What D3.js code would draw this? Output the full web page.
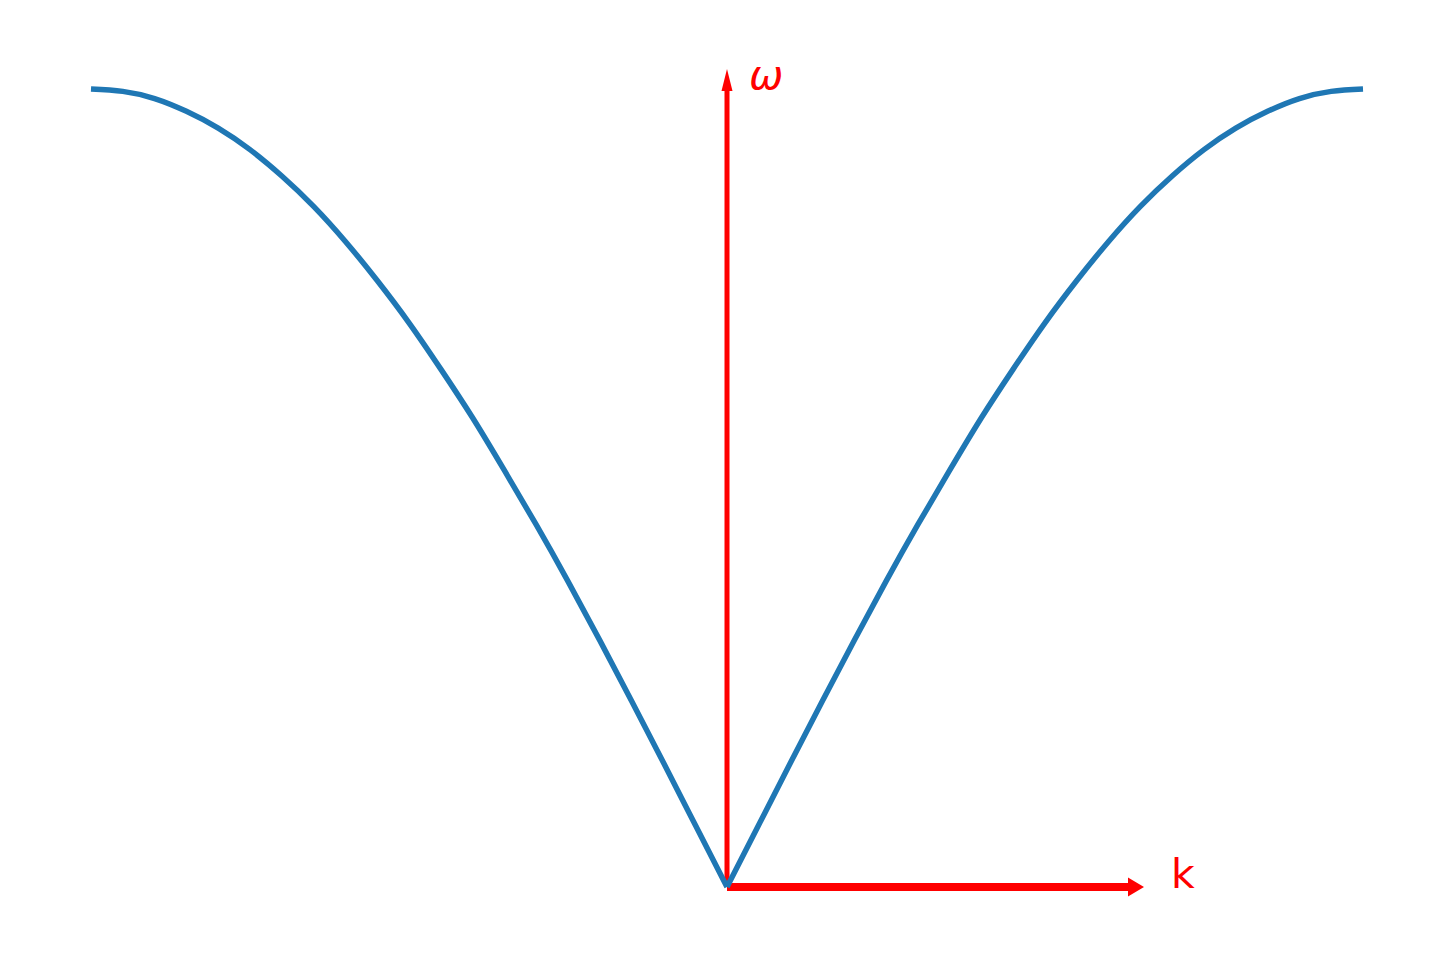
<!DOCTYPE html>
<html><head><meta charset="utf-8">
<script src="https://cdn.jsdelivr.net/npm/d3@7"></script>
<style>body{margin:0;background:#fff}svg{display:block}</style>
</head><body>
<script>
// k in units of pi/a, omega normalized to max
const kValues = [0,0.05,0.1,0.15,0.2,0.25,0.3,0.35,0.4,0.45,0.5,0.55,0.6,0.65,0.7,0.75,0.8,0.85,0.9,0.95,1.0];
const omegaValues = [0,0.078,0.156,0.233,0.309,0.383,0.454,0.522,0.588,0.649,0.707,0.760,0.809,0.853,0.891,0.924,0.951,0.972,0.988,0.997,1.0];
const axisLabels = ["ω","k"];

const W = 1455, H = 966;
const svg = d3.select("body").append("svg").attr("width", W).attr("height", H);
const x = d3.scaleLinear().domain([-1, 1]).range([91, 1363]);
const y = d3.scaleLinear().domain([0, 1]).range([887, 89]);

const right = kValues.map((k,i)=>[k, omegaValues[i]]);
const left = kValues.map((k,i)=>[-k, omegaValues[i]]);
const lineGen = d3.line().x(d=>x(d[0])).y(d=>y(d[1])).curve(d3.curveNatural);

const cx = x(0), cy = y(0);
// vertical arrow
const vTop = 69, vHeadLen = 22, vShaft = 5, vHead = 11;
svg.append("path").attr("fill","red").attr("d",
  `M${cx-vShaft/2},${cy} L${cx-vShaft/2},${vTop+vHeadLen} L${cx-vHead/2},${vTop+vHeadLen} L${cx},${vTop} L${cx+vHead/2},${vTop+vHeadLen} L${cx+vShaft/2},${vTop+vHeadLen} L${cx+vShaft/2},${cy} Z`);
// horizontal arrow
const hRight = 1144, hHeadLen = 16, hShaft = 8, hHead = 19;
svg.append("path").attr("fill","red").attr("d",
  `M${cx},${cy-hShaft/2} L${hRight-hHeadLen},${cy-hShaft/2} L${hRight-hHeadLen},${cy-hHead/2} L${hRight},${cy} L${hRight-hHeadLen},${cy+hHead/2} L${hRight-hHeadLen},${cy+hShaft/2} L${cx},${cy+hShaft/2} Z`);

svg.append("path").datum(left.slice().reverse()).attr("d", lineGen)
  .attr("fill","none").attr("stroke","#1f77b4").attr("stroke-width",5.5).attr("stroke-linejoin","round");
svg.append("path").datum(right).attr("d", lineGen)
  .attr("fill","none").attr("stroke","#1f77b4").attr("stroke-width",5.5).attr("stroke-linejoin","round");

svg.append("text").attr("x", 749).attr("y", 89).attr("fill","red")
  .attr("font-family","DejaVu Sans").attr("font-style","italic").attr("font-size",41).text(axisLabels[0]);
svg.append("text").attr("x", 1171).attr("y", 888).attr("fill","red")
  .attr("font-family","DejaVu Sans").attr("font-size",41).text(axisLabels[1]);
</script>
</body></html>
